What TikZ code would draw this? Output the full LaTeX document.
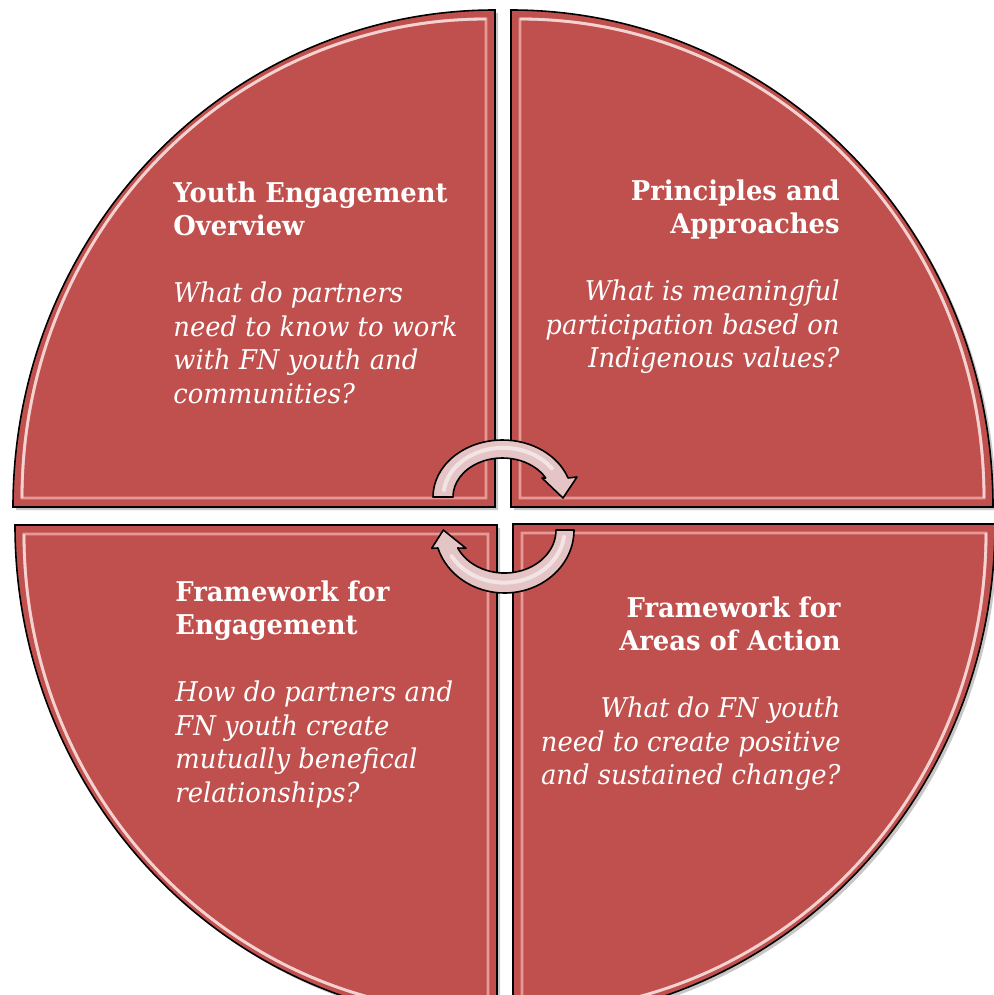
\documentclass[tikz,border=0pt]{standalone}
\usepackage{fontspec}
\setmainfont{DejaVu Serif}[FakeStretch=0.95]
\definecolor{quad}{HTML}{C0504D}
\definecolor{bevel}{HTML}{E59A98}
\definecolor{bevelhi}{HTML}{F4D2D1}
\definecolor{arrowfill}{HTML}{E4C4C4}
\tikzset{
  quadrant/.style={fill=quad, draw=black, line width=0.8pt},
  quadshadow/.style={fill=black, opacity=0.22},
  bevelline/.style={draw=bevel, line width=1.4pt, line join=miter},
  bevelarc/.style={draw=bevelhi, line width=1.4pt},
  cyclearrow/.style={fill=arrowfill, draw=black, line width=0.8pt, line join=round},
  arrowhi/.style={draw=white, opacity=0.55, line width=2pt, line cap=round},
  label/.style={text=white, inner sep=0pt, font=\fontsize{13.6pt}{16.75pt}\selectfont},
}
\begin{document}
\begin{tikzpicture}[x=0.5pt, y=-0.5pt]
\useasboundingbox (0,0) rectangle (994,995);
\clip (0,0) rectangle (994,995);
% shadows
\fill[quadshadow] (498,510) -- (16,510) arc[start angle=180, end angle=270, x radius=482, y radius=497] -- cycle;
\fill[quadshadow] (514,510) -- (514,13) arc[start angle=270, end angle=360, x radius=482, y radius=497] -- cycle;
\fill[quadshadow] (500,528) -- (500,1025) arc[start angle=90, end angle=180, x radius=482, y radius=497] -- cycle;
\fill[quadshadow] (516,527) -- (998,527) arc[start angle=0, end angle=90, x radius=482, y radius=497] -- cycle;
% quadrants
\draw[quadrant] (495,507) -- (13,507) arc[start angle=180, end angle=270, x radius=482, y radius=497] -- cycle;
\draw[quadrant] (511,507) -- (511,10) arc[start angle=270, end angle=360, x radius=482, y radius=497] -- cycle;
\draw[quadrant] (497,525) -- (497,1022) arc[start angle=90, end angle=180, x radius=482, y radius=497] -- cycle;
\draw[quadrant] (513,524) -- (995,524) arc[start angle=0, end angle=90, x radius=482, y radius=497] -- cycle;
% bevels
\draw[bevelline] (486,498) -- (22,498) arc[start angle=180, end angle=270, x radius=464, y radius=479] -- cycle;
\draw[bevelarc] (22,498) arc[start angle=180, end angle=270, x radius=464, y radius=479];
\draw[bevelline] (520,498) -- (520,19) arc[start angle=270, end angle=360, x radius=464, y radius=479] -- cycle;
\draw[bevelarc] (520,19) arc[start angle=270, end angle=360, x radius=464, y radius=479];
\draw[bevelline] (488,534) -- (488,1013) arc[start angle=90, end angle=180, x radius=464, y radius=479] -- cycle;
\draw[bevelarc] (488,1013) arc[start angle=90, end angle=180, x radius=464, y radius=479];
\draw[bevelline] (522,533) -- (986,533) arc[start angle=0, end angle=90, x radius=464, y radius=479] -- cycle;
\draw[bevelarc] (986,533) arc[start angle=0, end angle=90, x radius=464, y radius=479];
% texts
\node[label, anchor=base west] (tl) at (173,202) {\begin{tabular}[t]{@{}l@{}}
\bfseries Youth Engagement\\ \bfseries Overview\\ \\
\itshape What do partners\\ \itshape need to know to work\\ \itshape with FN youth and\\ \itshape communities?\end{tabular}};
\node[label, anchor=base east] (tr) at (840,200) {\begin{tabular}[t]{@{}r@{}}
\bfseries Principles and\\ \bfseries Approaches\\ \\
\itshape What is meaningful\\ \itshape participation based on\\ \itshape Indigenous values?\end{tabular}};
\node[label, anchor=base west] (bl) at (175,601) {\begin{tabular}[t]{@{}l@{}}
\bfseries Framework for\\ \bfseries Engagement\\ \\
\itshape How do partners and\\ \itshape FN youth create\\ \itshape mutually benefical\\ \itshape relationships?\end{tabular}};
\node[label, anchor=base east] (br) at (841,617) {\begin{tabular}[t]{@{}r@{}}
\bfseries Framework for\\ \bfseries Areas of Action\\ \\
\itshape What do FN youth\\ \itshape need to create positive\\ \itshape and sustained change?\end{tabular}};
% circular arrows
\draw[cyclearrow] (433,497) arc[start angle=180, end angle=340.5, x radius=69.5, y radius=57]
  -- (577,477) -- (563,498) -- (542,478) -- (545.7,478)
  arc[start angle=330.85, end angle=180, x radius=49.5, y radius=39] -- cycle;
\draw[arrowhi] (444,490) arc[start angle=187, end angle=325, x radius=59.5, y radius=48];
\draw[cyclearrow] (574,530) arc[start angle=0, end angle=163.4, x radius=69.5, y radius=63]
  -- (431.7,548.3) -- (443.3,530) -- (466,548.3) -- (457.7,548)
  arc[start angle=155.3, end angle=0, x radius=51.5, y radius=43] -- cycle;
\draw[arrowhi] (564,537) arc[start angle=8, end angle=150, x radius=60.5, y radius=53];
\end{tikzpicture}
\end{document}
